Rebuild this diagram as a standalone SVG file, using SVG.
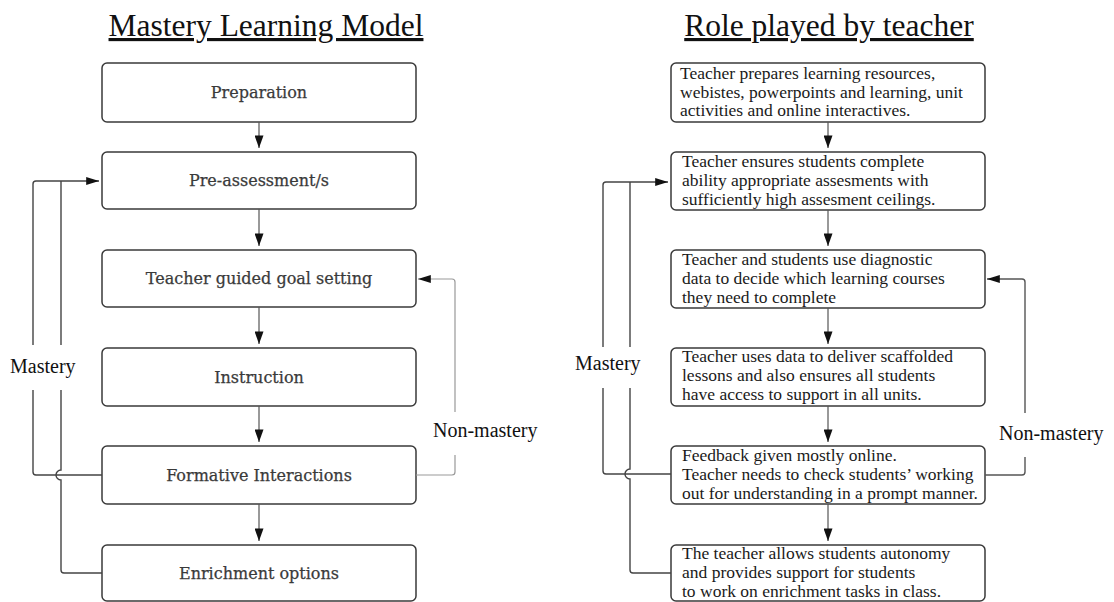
<svg xmlns="http://www.w3.org/2000/svg" width="1114" height="602" viewBox="0 0 1114 602">
<style>
.title{font-family:"Liberation Serif","Times New Roman",serif;font-size:31.5px;fill:#111;text-decoration:underline;text-anchor:middle}
.box{fill:#fff;stroke:#3a3a3a;stroke-width:1.5}
.lt{font-family:"DejaVu Serif",serif;font-size:16px;fill:#3a3a3a;text-anchor:middle;stroke:#3a3a3a;stroke-width:0.25}
.rt{font-family:"Liberation Serif","Times New Roman",serif;font-size:17.5px;fill:#1a1a1a}
.lbl{font-family:"Liberation Serif","Times New Roman",serif;font-size:20px;fill:#111}
.flow{fill:none;stroke:#555;stroke-width:1.2}
.m{fill:none;stroke:#444;stroke-width:1.4}
.nm{fill:none;stroke:#999;stroke-width:1.2}
.nm2{fill:none;stroke:#555;stroke-width:1.4}
</style>
<defs>
<marker id="ah" viewBox="0 0 14 10" refX="14" refY="5" markerWidth="14" markerHeight="9" markerUnits="userSpaceOnUse" orient="auto">
<path d="M0,0 L14,5 L0,10 z" fill="#111"/>
</marker>
<marker id="ahs" viewBox="0 0 16 10" refX="16" refY="5" markerWidth="16" markerHeight="8" markerUnits="userSpaceOnUse" orient="auto">
<path d="M0,0 L16,5 L0,10 z" fill="#111"/>
</marker>
</defs>

<text class="title" x="266" y="36">Mastery Learning Model</text>
<text class="title" x="829" y="36">Role played by teacher</text>

<g id="L1"><rect class="box" x="102" y="63" width="314" height="59" rx="5"/><text class="lt" x="259" y="98">Preparation</text></g>
<g id="L2"><rect class="box" x="102" y="152" width="314" height="57" rx="5"/><text class="lt" x="259" y="186">Pre-assessment/s</text></g>
<g id="L3"><rect class="box" x="102" y="250" width="314" height="57" rx="5"/><text class="lt" x="259" y="284">Teacher guided goal setting</text></g>
<g id="L4"><rect class="box" x="102" y="348" width="314" height="58" rx="5"/><text class="lt" x="259" y="383">Instruction</text></g>
<g id="L5"><rect class="box" x="102" y="446" width="314" height="58" rx="5"/><text class="lt" x="259" y="481">Formative Interactions</text></g>
<g id="L6"><rect class="box" x="102" y="545" width="314" height="56" rx="5"/><text class="lt" x="259" y="579">Enrichment options</text></g>

<g id="R1"><rect class="box" x="671" y="63" width="314" height="59" rx="5"/>
<text class="rt"><tspan x="680" y="79">Teacher prepares learning resources,</tspan><tspan x="680" y="98">webistes, powerpoints and learning, unit</tspan><tspan x="680" y="116">activities and online interactives.</tspan></text></g>
<g id="R2"><rect class="box" x="671" y="152" width="314" height="58" rx="5"/>
<text class="rt"><tspan x="682" y="167">Teacher ensures students complete</tspan><tspan x="682" y="186">ability appropriate assesments with</tspan><tspan x="682" y="205">sufficiently high assesment ceilings.</tspan></text></g>
<g id="R3"><rect class="box" x="671" y="250" width="314" height="58" rx="5"/>
<text class="rt"><tspan x="682" y="265">Teacher and students use diagnostic</tspan><tspan x="682" y="284">data to decide which learning courses</tspan><tspan x="682" y="303">they need to complete</tspan></text></g>
<g id="R4"><rect class="box" x="671" y="348" width="314" height="58" rx="5"/>
<text class="rt"><tspan x="682" y="362">Teacher uses data to deliver scaffolded</tspan><tspan x="682" y="381">lessons and also ensures all students</tspan><tspan x="682" y="400">have access to support in all units.</tspan></text></g>
<g id="R5"><rect class="box" x="671" y="446" width="314" height="58" rx="5"/>
<text class="rt"><tspan x="682" y="461">Feedback given mostly online.</tspan><tspan x="682" y="480">Teacher needs to check students’ working</tspan><tspan x="682" y="499">out for understanding in a prompt manner.</tspan></text></g>
<g id="R6"><rect class="box" x="671" y="545" width="314" height="56" rx="5"/>
<text class="rt"><tspan x="682" y="559">The teacher allows students autonomy</tspan><tspan x="682" y="578">and provides support for students</tspan><tspan x="682" y="597">to work on enrichment tasks in class.</tspan></text></g>

<g id="labels">
<text class="lbl" x="10" y="373">Mastery</text>
<text class="lbl" x="433" y="437">Non-mastery</text>
<text class="lbl" x="575" y="370">Mastery</text>
<text class="lbl" x="999" y="440">Non-mastery</text>
</g>

<g id="connectors">
<path class="flow" d="M259 122V148" marker-end="url(#ah)"/>
<path class="flow" d="M259 209V246" marker-end="url(#ah)"/>
<path class="flow" d="M259 307V344" marker-end="url(#ah)"/>
<path class="flow" d="M259 406V442" marker-end="url(#ah)"/>
<path class="flow" d="M259 504V541" marker-end="url(#ah)"/>

<path class="flow" d="M828 122V148" marker-end="url(#ah)"/>
<path class="flow" d="M828 210V246" marker-end="url(#ah)"/>
<path class="flow" d="M828 308V344" marker-end="url(#ah)"/>
<path class="flow" d="M828 406V442" marker-end="url(#ah)"/>
<path class="flow" d="M828 504V541" marker-end="url(#ah)"/>

<path class="m" d="M33 345V184Q33 181 36 181H99" marker-end="url(#ahs)"/>
<path class="m" d="M61 181V345"/>
<path class="m" d="M33 390V472Q33 475 36 475H102"/>
<path class="m" d="M61 390V470A5 5 0 0 0 61 480V570Q61 573 64 573H102"/>
<path class="nm" d="M416 475H452Q455 475 455 472V455"/>
<path class="nm" d="M455 412V282Q455 279 452 279H418" marker-end="url(#ahs)"/>

<path class="m" d="M603 347V185Q603 182 606 182H668" marker-end="url(#ahs)"/>
<path class="m" d="M630 182V347"/>
<path class="m" d="M603 388V471Q603 474 606 474H671"/>
<path class="m" d="M630 388V469A5 5 0 0 0 630 479V570Q630 573 633 573H671"/>
<path class="nm2" d="M985 475H1022Q1025 475 1025 472V457"/>
<path class="nm2" d="M1025 413V282Q1025 279 1022 279H987" marker-end="url(#ahs)"/>
</g>
</svg>
